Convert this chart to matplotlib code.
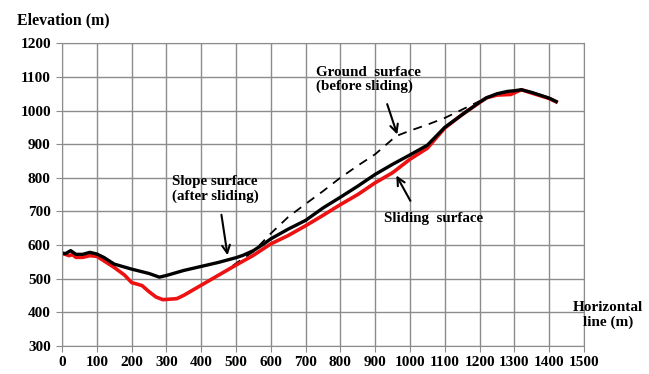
import numpy as np
import matplotlib.pyplot as plt

plt.rcParams['font.family'] = ['Liberation Serif', 'DejaVu Serif']
plt.rcParams['font.weight'] = 'bold'

# 滑坡后坡面 (black solid)
slope_x = [0, 10, 25, 40, 60, 80, 100, 120, 150, 200, 250, 280, 300, 350, 400, 450,
           500, 520, 550, 580, 600, 650, 700, 750, 800, 850, 900, 950, 1000, 1050,
           1100, 1150, 1200, 1220, 1250, 1280, 1300, 1320, 1350, 1400, 1420]
slope_y = [576, 574, 583, 572, 572, 578, 573, 563, 543, 528, 515, 504, 509, 524, 536, 548,
           562, 569, 583, 603, 618, 647, 673, 710, 742, 775, 810, 840, 868, 897,
           950, 988, 1025, 1038, 1050, 1057, 1059, 1062, 1054, 1037, 1027]

# 滑动面 (red)
sliding_x = [0, 10, 20, 30, 40, 60, 80, 100, 120, 150, 180, 200, 230, 250, 270, 290,
             330, 350, 400, 450, 500, 550, 600, 650, 700, 750, 800, 850, 900, 950,
             1000, 1050, 1100, 1150, 1200, 1220, 1250, 1290, 1320, 1350, 1400, 1420]
sliding_y = [574, 572, 568, 571, 563, 563, 568, 566, 553, 533, 510, 488, 479, 461, 445, 437,
             440, 450, 480, 510, 540, 569, 603, 628, 657, 688, 720, 750, 785, 815,
             855, 888, 948, 988, 1024, 1038, 1046, 1048, 1062, 1052, 1036, 1026]

# 滑坡前地面 (dashed)
ground_x = [453, 500, 550, 600, 650, 700, 750, 800, 850, 900, 960, 1000, 1050, 1100, 1150, 1200]
ground_y = [510, 545, 580, 634, 683, 722, 760, 800, 836, 870, 924, 940, 958, 978, 1003, 1028]

fig = plt.figure(figsize=(6.49, 3.74), dpi=100)
ax = fig.add_axes([0.0955, 0.0757, 0.8043, 0.8083])

ax.plot(ground_x, ground_y, color='black', lw=1.3, ls=(0, (5, 4)))
ax.plot(sliding_x, sliding_y, color='#ee1111', lw=2.6)
ax.plot(slope_x, slope_y, color='black', lw=2.4)

ax.set_xlim(0, 1500)
ax.set_ylim(300, 1200)
ax.set_xticks(np.arange(0, 1501, 100))
ax.set_yticks(np.arange(300, 1201, 100))
ax.grid(True, color='#8c8c8c', lw=1)
for s in ax.spines.values():
    s.set_color('#8c8c8c')
ax.tick_params(colors='#8c8c8c', length=4, labelcolor='black', labelsize=11)
ax.tick_params(axis='y', pad=4)
for lab in ax.get_xticklabels() + ax.get_yticklabels():
    lab.set_fontweight('bold')

fig.text(0.026, 0.968, 'Elevation (m)', fontsize=11.4, fontweight='bold', va='top')
fig.text(0.937, 0.195, 'Horizontal\nline (m)', fontsize=11, fontweight='bold',
         va='top', ha='center', linespacing=1.1)

ax.text(730, 1133, 'Ground  surface\n(before sliding)', fontsize=10.8, fontweight='bold',
        va='top', linespacing=1.1)
ax.text(316, 808, 'Slope surface\n(after sliding)', fontsize=10.8, fontweight='bold',
        va='top', linespacing=1.1)
ax.text(925, 698, 'Sliding  surface', fontsize=10.8, fontweight='bold', va='top')

arw = dict(arrowstyle='->', color='black', lw=1.5, mutation_scale=14)
ax.annotate('', xy=(477, 561), xytext=(457, 698), arrowprops=arw)
ax.annotate('', xy=(966, 921), xytext=(932, 1027), arrowprops=arw)
ax.annotate('', xy=(957, 814), xytext=(1005, 724), arrowprops=arw)

fig.savefig('out.png', dpi=100)
